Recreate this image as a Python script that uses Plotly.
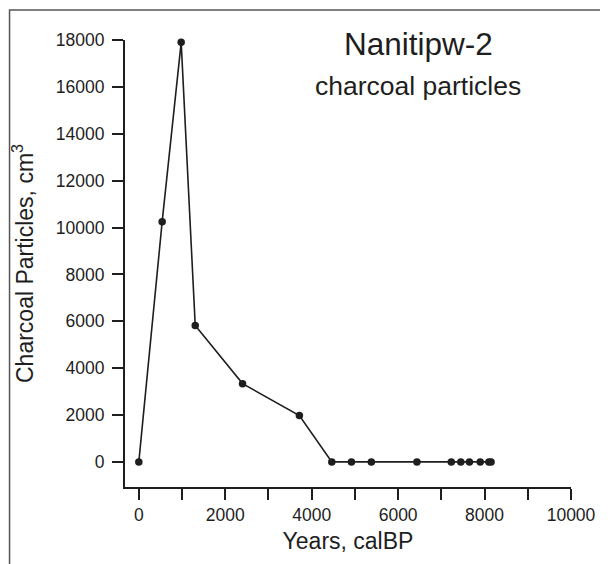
import plotly.graph_objects as go

# Data
years_calBP = [0, 540, 980, 1305, 2400, 3715, 4465, 4920, 5380, 6435,
               7230, 7450, 7650, 7900, 8100, 8150]
charcoal_particles = [0, 10250, 17900, 5820, 3340, 1980, 0, 0, 0, 0,
                      0, 0, 0, 0, 0, 0]

x_tickvals = [0, 2000, 4000, 6000, 8000, 10000]
x_ticktext = ["0", "2000", "4000", "6000", "8000", "10000"]
y_tickvals = [0, 2000, 4000, 6000, 8000, 10000, 12000, 14000, 16000, 18000]
y_ticktext = ["0", "2000", "4000", "6000", "8000", "10000", "12000", "14000", "16000", "18000"]

title_text = "Nanitipw-2"
subtitle_text = "charcoal particles"
x_title = "Years, calBP"
y_title = "Charcoal Particles, cm<sup>3</sup>"

FONT = "Liberation Sans, Arial, sans-serif"
INK = "#1e1e1e"

# page body has an 8px margin: figure is 600x556 placed at (8, 8)
W, H = 600, 556
L, R, T, B = 117, 33, 32, 77
PW, PH = W - L - R, H - T - B

fig = go.Figure()
fig.add_trace(go.Scatter(
    x=years_calBP, y=charcoal_particles,
    mode="lines+markers",
    line=dict(color=INK, width=1.6),
    marker=dict(color=INK, size=7.5),
    cliponaxis=False,
    showlegend=False, hoverinfo="skip",
))

axis_common = dict(
    showline=True, linecolor=INK, linewidth=2.2,
    ticks="outside", ticklen=11, tickwidth=2.2, tickcolor=INK,
    showgrid=False, zeroline=False,
    tickfont=dict(family=FONT, size=17.5, color=INK),
    mirror=False,
)

fig.update_layout(
    width=W, height=H,
    margin=dict(l=L, r=R, t=T, b=B),
    paper_bgcolor="white", plot_bgcolor="white",
    font=dict(family=FONT, color=INK),
    xaxis=dict(range=[-320, 10000], tickmode="array", tickvals=x_tickvals,
               ticktext=x_ticktext,
               minor=dict(dtick=1000, tick0=0, ticks="outside", ticklen=11,
                          tickwidth=2.2, tickcolor=INK, showgrid=False),
               title=dict(text=x_title, font=dict(family=FONT, size=23, color=INK), standoff=9),
               **axis_common),
    yaxis=dict(range=[-1070, 18000], tickmode="array", tickvals=y_tickvals,
               ticktext=y_ticktext, ticklabelstandoff=4,
               title=dict(text=y_title, font=dict(family=FONT, size=23, color=INK), standoff=16),
               **axis_common),
    annotations=[
        dict(text=title_text, xref="paper", yref="paper", x=0.657, y=0.99,
             xanchor="center", yanchor="middle", showarrow=False,
             font=dict(family=FONT, size=31.5, color=INK)),
        dict(text=subtitle_text, xref="paper", yref="paper", x=0.657, y=0.898,
             xanchor="center", yanchor="middle", showarrow=False,
             font=dict(family=FONT, size=26.5, color=INK)),
    ],
    shapes=[
        dict(type="rect", xref="paper", yref="paper",
             x0=(0.5 - L) / PW, x1=(W + 40 - L) / PW,
             y0=(T + PH - (H + 40)) / PH, y1=(T + PH - 2) / PH,
             line=dict(color="#555555", width=1.5), layer="below"),
    ],
)

fig.write_html("out.html")
